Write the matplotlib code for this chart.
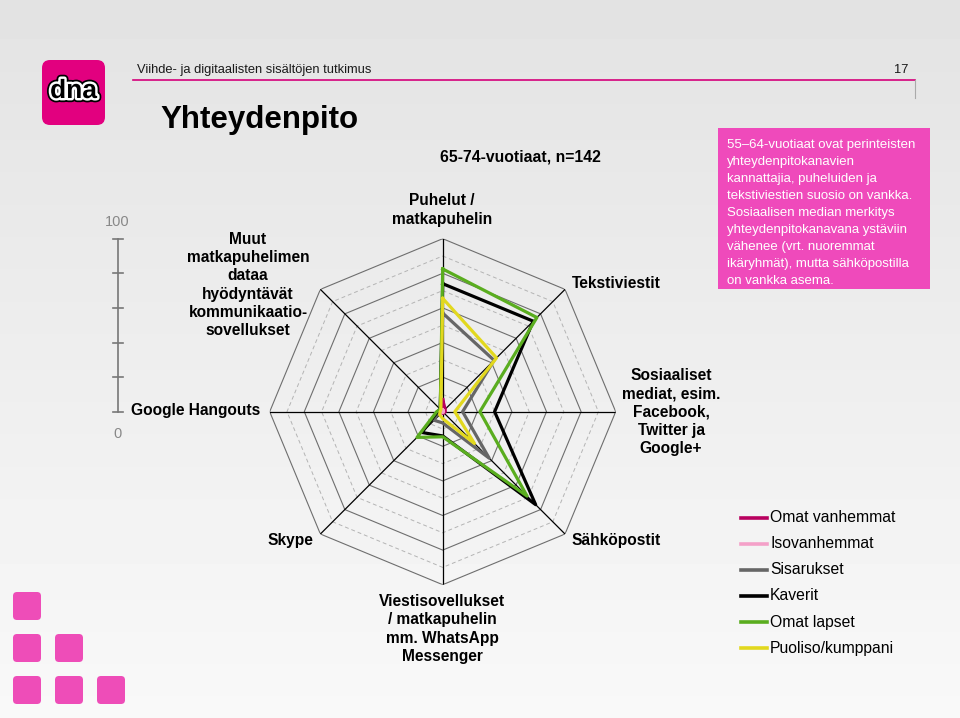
import numpy as np
import matplotlib.pyplot as plt
from matplotlib.patches import FancyBboxPatch, Rectangle
import matplotlib.patheffects as pe

plt.rcParams['font.family'] = ['Liberation Sans', 'DejaVu Sans']

# Radar axes, clockwise from the top
axis_labels = ['Puhelut /\nmatkapuhelin', 'Tekstiviestit',
               'Sosiaaliset\nmediat, esim.\nFacebook,\nTwitter ja\nGoogle+',
               'Sähköpostit',
               'Viestisovellukset\n/ matkapuhelin\nmm. WhatsApp\nMessenger',
               'Skype', 'Google Hangouts',
               'Muut\nmatkapuhelimen\ndataa\nhyödyntävät\nkommunikaatio-\nsovellukset']

series_names = ['Omat vanhemmat', 'Isovanhemmat', 'Sisarukset', 'Kaverit',
                'Omat lapset', 'Puoliso/kumppani']
series_colors = ['#b8005e', '#f4a0c8', '#666666', '#000000', '#5aad1f', '#e2d81e']

omat_vanhemmat = [7, 2, 1.5, 1, 1, 0.5, 0.5, 0.5]
isovanhemmat = [1, 0.5, 0.5, 0.5, 0.5, 0.5, 0.5, 0.5]
sisarukset = [57, 42, 11.5, 38, 6.5, 7, 2.5, 2]
kaverit = [74, 74, 30, 76, 14, 17, 3, 2]
omat_lapset = [82.5, 77, 21.5, 69, 14.5, 21, 3.5, 2]
puoliso = [65.5, 44, 7, 26, 4, 2.5, 1.5, 1.5]
series_values = [omat_vanhemmat, isovanhemmat, sisarukset, kaverit, omat_lapset, puoliso]

scale_ticks = [0, 20, 40, 60, 80, 100]

info_lines = ['55\u201364-vuotiaat ovat perinteisten',
              'yhteydenpitokanavien',
              'kannattajia, puheluiden ja',
              'tekstiviestien suosio on vankka.',
              'Sosiaalisen median merkitys',
              'yhteydenpitokanavana ystäviin',
              'vähenee (vrt. nuoremmat',
              'ikäryhmät), mutta sähköpostilla',
              'on vankka asema.']

W, H = 960, 718
fig = plt.figure(figsize=(W / 100, H / 100), dpi=100)

# Background / decoration layer in pixel coordinates
bg = fig.add_axes([0, 0, 1, 1], zorder=0)
bg.set_xlim(0, W)
bg.set_ylim(H, 0)
bg.axis('off')
grad = np.linspace(0.89, 0.975, 200)[:, None] * np.ones((1, 2))
bg.imshow(grad, cmap='gray', vmin=0, vmax=1, extent=[0, W, H, 0], aspect='auto')

# logo
bg.add_patch(FancyBboxPatch((42, 60), 63, 65, boxstyle='round,pad=0,rounding_size=8',
                            fc='#e2007f', ec='none'))
bg.text(73.5, 91, 'dna', fontsize=19, fontweight='bold', color='black', ha='center',
        va='center', path_effects=[pe.Stroke(linewidth=6, foreground='black'),
                                   pe.Stroke(linewidth=3.5, foreground='white'),
                                   pe.Normal()])

# header
bg.text(137, 70, 'Viihde- ja digitaalisten sisältöjen tutkimus', fontsize=9.3,
        color='#1a1a1a', va='center')
bg.text(908, 70, '17', fontsize=9.3, color='#1a1a1a', va='center', ha='right')
bg.plot([133, 915], [80, 80], color='#d4007a', lw=1.2)
bg.plot([915, 915], [80, 98], color='#aaaaaa', lw=0.8)
bg.text(160, 120, 'Yhteydenpito', fontsize=22.5, fontweight='bold', color='black', va='center')
bg.text(520, 157, '65-74-vuotiaat, n=142', fontsize=11.3, fontweight='bold', va='center',
        ha='center')

# info box
bg.add_patch(Rectangle((718, 128), 212, 161, fc='#ef4abb', ec='none'))
for i, line in enumerate(info_lines):
    bg.text(727, 145 + i * 16.95, line, fontsize=9.5, color='white', va='center')

# decorative squares
for (sx, sy) in [(13, 592), (13, 634), (55, 634), (13, 676), (55, 676), (97, 676)]:
    bg.add_patch(FancyBboxPatch((sx, sy), 28, 28, boxstyle='round,pad=0,rounding_size=4',
                                fc='#ee4db8', ec='none'))

# radar
cx, cy, rad = 442.7, 411.7, 173.0
ax = fig.add_axes([(cx - rad) / W, (H - cy - rad) / H, 2 * rad / W, 2 * rad / H],
                  projection='polar', zorder=1)
ax.set_facecolor('none')
ax.set_theta_zero_location('N')
ax.set_theta_direction(-1)
ax.set_ylim(0, 100)
ax.grid(False)
ax.set_xticks([])
ax.set_yticks([])
ax.spines['polar'].set_visible(False)

theta = np.deg2rad(np.arange(len(axis_labels)) * 45.0)
theta_c = np.append(theta, theta[0])
for r in range(10, 101, 10):
    if r % 20 == 0:
        ax.plot(theta_c, [r] * len(theta_c), color='#6e6e6e', lw=0.8)
    else:
        ax.plot(theta_c, [r] * len(theta_c), color='#b4b4b4', lw=0.7, ls=(0, (4, 3)))
for t in theta:
    ax.plot([t, t], [0, 100], color='black', lw=0.9)

for name, color, vals in zip(series_names, series_colors, series_values):
    ax.plot(theta_c, vals + vals[:1], color=color, lw=2.3, label=name)

# axis labels (pixel positions)
label_pos = [(442, 210), (616, 284), (671, 412), (616, 540),
             (442, 629), (290, 540), (196, 411), (248, 285)]
for lab, (lx, ly) in zip(axis_labels, label_pos):
    bg.text(lx, ly, lab, fontsize=11.2, fontweight='bold', ha='center', va='center',
            linespacing=1.28, zorder=3)

# value scale on the left
sx = 118
y0, y1 = cy, cy - rad
bg.plot([sx, sx], [y0, y1], color='#777777', lw=1.2)
for v in scale_ticks:
    yy = y0 - rad * v / 100.0
    bg.plot([sx - 5, sx + 5], [yy, yy], color='#777777', lw=1.2)
bg.text(117, 222, str(scale_ticks[-1]), fontsize=10.5, color='#888888', ha='center', va='center')
bg.text(117, 434, str(scale_ticks[0]), fontsize=10.5, color='#888888', ha='center', va='center')

# legend
for i, (name, color) in enumerate(zip(series_names, series_colors)):
    ly = 518 + i * 26
    bg.plot([741, 767], [ly, ly], color=color, lw=2.6)
    bg.text(770, ly, name, fontsize=11.3, color='black', va='center')

fig.savefig('out.png', dpi=100)
